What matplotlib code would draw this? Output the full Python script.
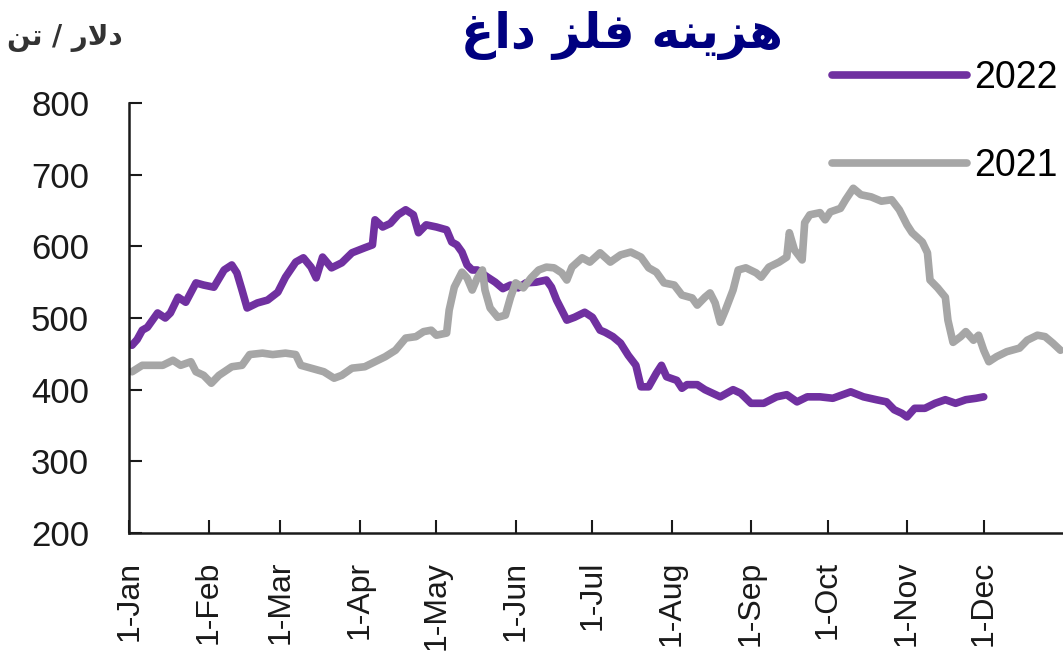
import matplotlib
matplotlib.use('Agg')
import matplotlib.pyplot as plt

# day of year (0 = 1-Jan) and price
days_2022 = [1, 3, 5, 7, 9, 11, 14, 16, 19, 22, 26, 29, 33, 37, 40, 42, 44, 46, 50, 54,
             58, 61, 65, 68, 71, 73, 75.5, 79, 83, 87, 92, 95, 96, 99, 102, 105, 108, 111, 113, 116,
             120, 124, 126, 128, 130, 132, 134, 136, 140, 143, 146, 149, 152, 155, 159, 163, 165, 167, 171, 174,
             178, 181, 184, 186, 189, 192, 195, 198, 200, 203, 206, 208, 210, 214, 216, 218, 222, 225, 228, 231,
             236, 239, 243, 248, 253, 257, 261, 265, 270, 275, 282, 287, 292, 296, 299, 302, 304, 307, 311, 315,
             319, 323, 327, 331, 334]
vals_2022 = [462, 470, 483, 487, 497, 507, 500, 507, 529, 522, 549, 546, 543, 567, 574, 563, 539, 514, 521, 525,
             536, 557, 578, 584, 571, 556, 585, 570, 577, 591, 598, 602, 637, 627, 632, 644, 651, 644, 619, 630,
             627, 623, 606, 602, 592, 574, 567, 567, 557, 550, 541, 546, 542, 549, 550, 553, 543, 525, 497, 501,
             508, 501, 483, 480, 474, 465, 448, 434, 404, 404, 423, 434, 418, 413, 402, 407, 407, 400, 395, 390,
             400, 395, 381, 381, 390, 393, 383, 390, 390, 388, 397, 390, 386, 383, 372, 367, 362, 374, 374, 381,
             386, 381, 386, 388, 390]

days_2021 = [1, 5, 9, 13, 17, 20, 24, 26, 29, 32, 35, 40, 44, 47, 52, 56, 61, 65, 67, 71,
             76, 80, 83, 87, 92, 96, 100, 104, 108, 112, 115, 118, 120, 124, 125, 127, 130, 132, 134, 136,
             138, 139, 141, 144, 147, 149, 151, 154, 157, 160, 163, 166, 169, 171, 173, 177, 180, 184, 188, 192,
             196, 200, 203, 206, 209, 213, 216, 220, 222, 225, 227, 229, 231, 233, 236, 238, 241, 245, 247, 250,
             254, 257, 258, 260, 263, 264, 266, 270, 272, 274, 278, 280, 283, 286, 290, 294, 298, 301, 304, 306,
             310, 312, 313, 316, 319, 320, 322, 325, 327, 330, 332, 334, 336, 339, 343, 348, 351, 355, 358, 361,
             364]
vals_2021 = [425, 434, 434, 434, 441, 434, 439, 425, 420, 409, 420, 432, 434, 449, 451, 449, 451, 449, 434, 430,
             425, 416, 420, 430, 432, 439, 446, 455, 472, 474, 481, 483, 476, 479, 511, 543, 564, 556, 539, 556,
             567, 539, 514, 501, 504, 529, 549, 542, 556, 567, 571, 570, 563, 553, 571, 584, 578, 591, 578, 588,
             592, 585, 570, 564, 549, 546, 532, 528, 518, 529, 535, 521, 494, 511, 539, 567, 570, 563, 557, 571,
             578, 585, 619, 595, 581, 633, 644, 647, 637, 648, 653, 665, 681, 672, 669, 663, 665, 651, 630, 619,
             606, 591, 553, 542, 529, 497, 466, 474, 481, 469, 476, 455, 439, 446, 453, 458, 469, 476, 474, 465,
             455]

month_days = [0, 31, 59, 90, 120, 151, 181, 212, 243, 273, 304, 334]
month_labels = ['1-Jan', '1-Feb', '1-Mar', '1-Apr', '1-May', '1-Jun',
                '1-Jul', '1-Aug', '1-Sep', '1-Oct', '1-Nov', '1-Dec']
y_ticks = [200, 300, 400, 500, 600, 700, 800]

# Persian text in presentation forms, visual order (matplotlib does no shaping)
title_txt = '\ufecd\ufe8d\ufea9 \ufeb0\ufee0\ufed3 \ufeea\ufee8\ufef3\ufeb0\ufeeb'   # هزینه فلز داغ
unit_txt = '\ufee6\ufe97 / \ufead\ufefb\ufea9'                                     # دلار / تن

num_font = ['Liberation Sans', 'DejaVu Sans']

fig = plt.figure(figsize=(10.63, 6.54), dpi=100)
ax = fig.add_axes([0.1218, 0.185, 0.8782, 0.6575])

ax.plot(days_2022, vals_2022, color='#7030A0', lw=5.5, label='2022', solid_capstyle='round')
ax.plot(days_2021, vals_2021, color='#A6A6A6', lw=5.5, label='2021', solid_capstyle='round')

ax.set_xlim(0, 365)
ax.set_ylim(200, 800)
ax.set_yticks(y_ticks)
ax.set_xticks(month_days)
ax.set_xticklabels(month_labels, rotation=90, family=num_font, fontsize=23, color='#1a1a1a')
ax.set_yticklabels([str(v) for v in y_ticks], family=num_font, fontsize=25, color='#1a1a1a')
ax.tick_params(axis='both', direction='in', length=9.5, width=1.5, color='#1a1a1a')
ax.tick_params(axis='y', pad=29)
ax.tick_params(axis='x', pad=20)

for s in ['top', 'right']:
    ax.spines[s].set_visible(False)
for s in ['left', 'bottom']:
    ax.spines[s].set_linewidth(1.8)
    ax.spines[s].set_color('#1a1a1a')

leg = fig.legend(loc='upper right', bbox_to_anchor=(1058 / 1063, 1 - 60 / 654),
                 frameon=False, handlelength=3.6, handletextpad=0.19, labelspacing=1.4,
                 borderpad=0, borderaxespad=0, prop={'family': num_font, 'size': 27})

fig.text(622 / 1063, 1 - 35 / 654, title_txt, ha='center', va='center',
         fontsize=35, fontweight='bold', color='#000080', family=['DejaVu Sans'])
fig.text(65 / 1063, 1 - 38 / 654, unit_txt, ha='center', va='center',
         fontsize=20, fontweight='bold', color='#333333', family=['DejaVu Sans'])

fig.savefig('out.png', dpi=100)
